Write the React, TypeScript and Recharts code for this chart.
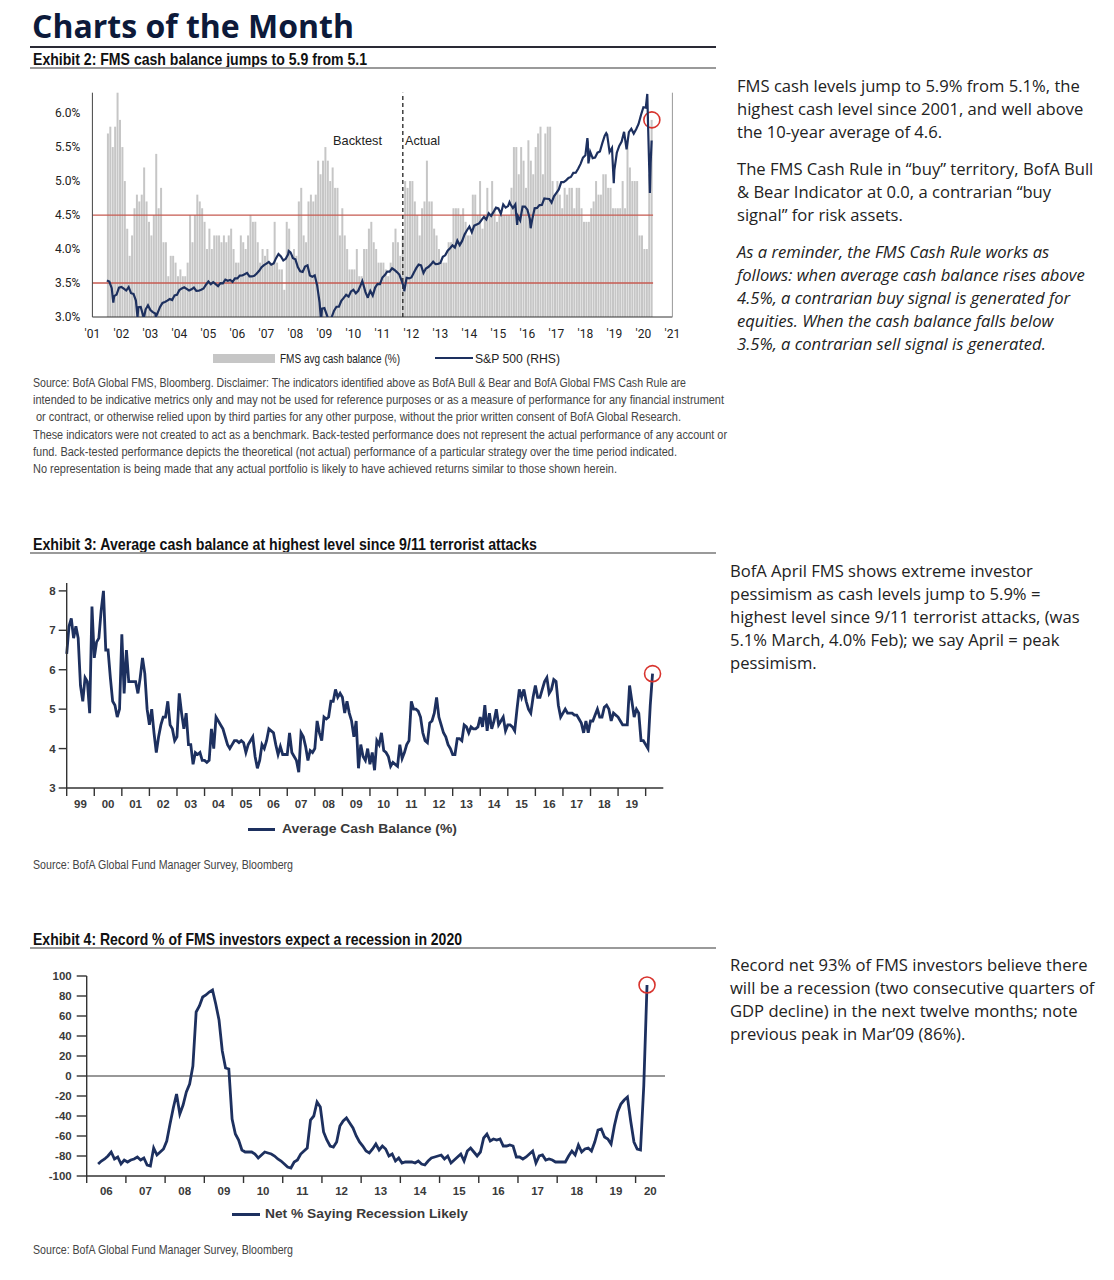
import React from "react";
import {
  BarChart,
  Bar,
  LineChart,
  Line,
  XAxis,
  YAxis,
  ReferenceLine,
  ReferenceDot,
} from "recharts";

const TICKFONT = "Roboto, 'Liberation Sans', sans-serif";
const ARIAL = "'Liberation Sans', Arial, sans-serif";
const BODY = "'Open Sans', 'Noto Sans', sans-serif";
const NAVY = "#1d305f";
const RED = "#d8342e";
const RULE_RED = "#c65a50";
const BAR_GREY = "#c6c6c6";
const AXIS = "#333";

// ---------- Exhibit 2 ----------
// FMS avg cash balance (%), monthly, Jul 2001 - Apr 2020
const CASH_BARS_START = [2001, 6];
const CASH_BARS = [
  5.7, 5.8, 5.5, 5.8, 6.3, 5.9,
  5.5, 5.0, 4.3, 3.9, 4.2, 4.6, 4.8, 4.7, 4.8, 5.2, 4.7, 4.4,
  4.2, 4.5, 5.4, 4.6, 4.9, 4.1, 4.1, 3.6, 3.9, 3.9, 3.8, 3.6,
  3.7, 3.6, 3.6, 3.8, 4.5, 4.1, 4.5, 4.8, 4.7, 4.6, 4.4, 4.0,
  4.3, 4.0, 4.2, 4.2, 4.2, 4.1, 4.2, 4.1, 4.2, 4.3, 4.0, 3.8,
  3.8, 4.2, 4.1, 4.0, 4.2, 4.5, 4.4, 4.4, 4.1, 3.8, 4.0, 3.9,
  4.0, 3.8, 3.8, 4.4, 3.8, 3.7, 3.7, 3.4, 4.4, 4.3, 3.9, 4.0,
  3.9, 4.7, 4.9, 4.2, 4.1, 4.7, 4.8, 4.7, 4.8, 5.3, 5.1, 5.3,
  5.5, 5.3, 5.0, 5.2, 4.9, 4.9, 4.2, 4.6, 4.2, 4.0, 3.7, 3.7,
  3.7, 4.0, 3.6, 3.6, 4.0, 4.0, 4.3, 4.4, 4.1, 4.0, 3.8, 3.8,
  3.8, 3.7, 3.6, 3.8, 4.1, 4.3, 4.1, 3.9, 4.2, 5.0, 4.9, 5.0,
  5.0, 4.7, 4.5, 4.2, 4.6, 4.7, 5.3, 4.7, 4.7, 4.3, 4.2, 4.0,
  3.8, 3.8, 3.8, 4.1, 4.1, 4.6, 4.6, 4.6, 4.5, 4.6, 4.4, 4.2,
  4.2, 4.8, 4.8, 4.5, 5.0, 4.3, 4.5, 4.9, 4.5, 5.0, 4.6, 4.4,
  4.5, 4.5, 4.5, 4.5, 4.5, 4.9, 5.5, 5.5, 5.1, 5.5, 5.3, 4.9,
  5.6, 5.3, 5.1, 5.5, 5.7, 5.8, 5.1, 5.7, 5.8, 5.8, 5.0, 4.8,
  5.0, 4.8, 4.6, 4.9, 4.8, 4.9, 4.9, 4.6, 4.9, 4.9, 4.6, 4.4,
  4.4, 4.4, 4.6, 4.7, 5.0, 4.8, 4.8, 5.1, 5.1, 4.9, 4.9, 4.6,
  4.6, 4.6, 4.6, 5.0, 4.6, 5.6, 5.2, 5.0, 5.0, 5.0, 4.2, 4.2,
  4.0, 4.0, 5.1, 5.9,
];

// S&P 500 month-end closes, Jun 2001 - Mar 2020
const SPX_START = [2001, 5];
const SPX_MONTHLY = [
  1224, 1211, 1134, 1041, 1060, 1139, 1148,
  1130, 1107, 1147, 1076, 1067, 990, 912, 916, 815, 886, 936, 880,
  856, 841, 848, 917, 964, 975, 990, 1008, 996, 1051, 1058, 1112,
  1131, 1145, 1126, 1107, 1121, 1141, 1102, 1104, 1115, 1130, 1174, 1212,
  1181, 1204, 1181, 1157, 1192, 1191, 1234, 1220, 1229, 1207, 1249, 1248,
  1280, 1281, 1295, 1311, 1270, 1270, 1277, 1304, 1336, 1378, 1401, 1418,
  1438, 1407, 1421, 1482, 1531, 1503, 1455, 1474, 1527, 1549, 1481, 1468,
  1379, 1331, 1323, 1386, 1400, 1280, 1267, 1283, 1166, 969, 896, 903,
  826, 735, 798, 873, 919, 919, 987, 1021, 1057, 1036, 1096, 1115,
  1074, 1104, 1169, 1187, 1089, 1031, 1102, 1049, 1141, 1183, 1181, 1258,
  1286, 1327, 1326, 1364, 1345, 1321, 1292, 1219, 1131, 1253, 1247, 1258,
  1312, 1366, 1408, 1398, 1310, 1362, 1379, 1407, 1441, 1412, 1416, 1426,
  1498, 1515, 1569, 1598, 1631, 1606, 1686, 1633, 1682, 1757, 1806, 1848,
  1783, 1859, 1872, 1884, 1924, 1960, 1931, 2003, 1972, 2018, 2068, 2059,
  1995, 2105, 2068, 2086, 2107, 2063, 2104, 1972, 1920, 2079, 2080, 2044,
  1940, 1932, 2060, 2065, 2097, 2099, 2174, 2171, 2168, 2126, 2199, 2239,
  2279, 2364, 2363, 2384, 2412, 2423, 2470, 2472, 2519, 2575, 2648, 2674,
  2824, 2714, 2641, 2648, 2705, 2718, 2816, 2902, 2914, 2712, 2760, 2507,
  2704, 2784, 2834, 2946, 2752, 2942, 2980, 2926, 2977, 3038, 3141, 3231,
  3226, 2954, 2585,
];

// intra-month turning points of the S&P 500
const SPX_TURNS: [string, number][] = [
  ["2001-09-21", 966],
  ["2002-07-23", 797],
  ["2002-10-09", 777],
  ["2003-03-11", 800],
  ["2007-10-09", 1565],
  ["2008-11-20", 752],
  ["2009-03-09", 677],
  ["2010-04-23", 1217],
  ["2010-07-02", 1022],
  ["2011-10-03", 1099],
  ["2015-05-21", 2131],
  ["2015-08-25", 1868],
  ["2016-02-11", 1829],
  ["2018-01-26", 2873],
  ["2018-02-08", 2581],
  ["2018-09-20", 2931],
  ["2018-12-24", 2351],
  ["2019-06-03", 2744],
  ["2020-02-19", 3386],
  ["2020-03-23", 2237],
  ["2020-04-14", 2846],
];

const EX2_YEARS = [2001, 2002, 2003, 2004, 2005, 2006, 2007, 2008, 2009, 2010, 2011,
  2012, 2013, 2014, 2015, 2016, 2017, 2018, 2019, 2020, 2021];
const EX2_LEFT_TICKS = [3.0, 3.5, 4.0, 4.5, 5.0, 5.5, 6.0];
const EX2_RIGHT_TICKS = [800, 1000, 1200, 1400, 1600, 1800, 2000, 2200, 2400, 2600,
  2800, 3000, 3200, 3400];
const CASH_RULES = [4.5, 3.5];
const BACKTEST_END = "2011-09-15";
const LATEST_CASH = 5.9;

// ---------- Exhibit 3 ----------
// Average cash balance (%), monthly, Jan 1999 - Apr 2020
const CASH_LINE_START = [1999, 0];
const CASH_LINE = [
  6.4, 7.1, 7.3, 6.8, 7.1, 6.8, 5.6, 5.2, 5.8, 5.7, 4.9, 7.6,
  6.3, 6.7, 6.8, 7.5, 8.0, 6.5, 6.5, 5.8, 5.2, 5.1, 4.8, 5.0,
  6.9, 5.4, 6.5, 5.7, 5.7, 5.7, 5.7, 5.4, 5.8, 6.3, 5.9, 5.0,
  4.6, 5.0, 4.4, 3.9, 4.3, 4.6, 4.8, 4.8, 5.2, 4.6, 4.5, 4.2,
  4.3, 5.4, 4.9, 4.5, 4.9, 4.1, 4.1, 3.6, 3.9, 3.85, 3.9, 3.7,
  3.7, 3.65, 3.7, 4.5, 4.0, 4.8, 4.7, 4.6, 4.5, 4.3, 4.1, 4.0,
  4.1, 4.2, 4.2, 4.15, 4.2, 4.15, 3.9, 4.1, 4.2, 4.3, 3.8, 3.5,
  3.7, 4.1, 4.0, 4.2, 4.5, 4.45, 4.4, 4.1, 3.85, 4.05, 3.85, 3.85,
  3.85, 4.4, 3.9, 3.8, 3.7, 3.4, 4.4, 4.3, 4.05, 3.7, 3.95, 3.9,
  4.0, 4.7, 4.4, 4.2, 4.8, 4.75, 4.8, 5.2, 5.2, 5.5, 5.3, 5.4,
  5.3, 4.9, 5.2, 4.9, 4.7, 4.3, 4.7, 3.5, 4.1, 3.8, 3.7, 4.0,
  3.6, 3.9, 3.45, 4.2, 4.1, 4.4, 3.95, 3.9, 3.8, 3.55, 3.65, 3.6,
  3.55, 4.1, 3.75, 3.9, 4.1, 4.2, 5.2, 5.0, 5.0, 4.95, 4.8, 4.4,
  4.2, 4.15, 4.65, 4.7, 4.9, 5.3, 4.8, 4.6, 4.4, 4.3, 4.1, 4.0,
  3.85, 3.85, 4.25, 4.25, 4.2, 4.6, 4.55, 4.4, 4.55, 4.5, 4.5, 4.55,
  4.8, 4.55, 5.1, 4.45, 4.9, 4.5, 4.7, 5.0, 4.6, 4.7, 4.8, 4.45,
  4.6, 4.6, 4.55, 4.45, 5.0, 5.5, 5.3, 5.5, 5.2, 5.0, 4.9, 5.3,
  5.6, 5.3, 5.3, 5.5, 5.7, 5.8, 5.4, 5.5, 5.75, 5.7, 5.1, 4.8,
  4.9, 5.0, 4.9, 4.9, 4.9, 4.85, 4.85, 4.75, 4.65, 4.4, 4.7, 4.4,
  4.7, 4.7, 4.85, 5.0, 4.8, 4.8, 5.05, 5.1, 5.0, 4.7, 4.9, 4.85,
  4.8, 4.7, 4.6, 4.6, 4.6, 5.6, 5.2, 4.8, 5.0, 4.9, 4.2, 4.2,
  4.1, 4.0, 5.1, 5.9,
];
const EX3_YEARS = [1999, 2000, 2001, 2002, 2003, 2004, 2005, 2006, 2007, 2008, 2009,
  2010, 2011, 2012, 2013, 2014, 2015, 2016, 2017, 2018, 2019, 2020];
const EX3_LABELS = ["99", "00", "01", "02", "03", "04", "05", "06", "07", "08", "09",
  "10", "11", "12", "13", "14", "15", "16", "17", "18", "19"];
const EX3_Y_TICKS = [3, 4, 5, 6, 7, 8];
const EX3_X_END = 2020.64;

// ---------- Exhibit 4 ----------
// Net % saying recession likely, monthly, Apr 2006 - Apr 2020
const RECESSION_START = [2006, 3];
const RECESSION = [
  -88, -85, -83, -80, -76, -83, -81, -88, -84,
  -86, -84, -83, -81, -84, -82, -89, -90, -72, -79, -76, -73,
  -65, -48, -32, -18, -38, -29, -16, -8, 10, 64, 70, 79,
  81, 84, 86, 72, 56, 25, 8, 7, -43, -58, -64, -74,
  -76, -76, -76, -78, -82, -79, -76, -77, -78, -80, -83, -85,
  -88, -91, -92, -86, -84, -78, -75, -72, -44, -40, -26, -31,
  -56, -64, -70, -71, -66, -50, -45, -42, -47, -52, -60, -66,
  -70, -75, -77, -73, -68, -74, -70, -73, -80, -78, -85, -82,
  -87, -86, -86, -86, -87, -85, -88, -89, -85, -82, -81, -80,
  -79, -83, -80, -87, -84, -81, -78, -85, -75, -72, -76, -80,
  -76, -62, -58, -65, -63, -64, -63, -70, -70, -69, -70, -81,
  -81, -83, -81, -78, -75, -87, -80, -79, -84, -83, -84, -86,
  -86, -86, -86, -80, -75, -79, -69, -76, -73, -72, -75, -66,
  -54, -53, -61, -63, -68, -50, -36, -28, -24, -21, -45, -66,
  -73, -74, -10, 91,
];
const EX4_YEARS = [2006, 2007, 2008, 2009, 2010, 2011, 2012, 2013, 2014, 2015, 2016,
  2017, 2018, 2019, 2020];
const EX4_LABELS = ["06", "07", "08", "09", "10", "11", "12", "13", "14", "15", "16",
  "17", "18", "19", "20"];
const EX4_Y_TICKS = [-100, -80, -60, -40, -20, 0, 20, 40, 60, 80, 100];
const EX4_X_END = 2020.75;

// ---------- data builders ----------
const monthly = (start: number[], values: number[], offset: number) =>
  values.map((v, i) => ({ t: start[0] + (start[1] + i + offset) / 12, v }));

const dateToYear = (s: string) => {
  const [y, m, d] = s.split("-").map(Number);
  const a = Date.UTC(y, 0, 1);
  const b = Date.UTC(y + 1, 0, 1);
  return y + (Date.UTC(y, m - 1, d) - a) / (b - a);
};

const barData = monthly(CASH_BARS_START, CASH_BARS, 0.5);
const spxData = [
  ...monthly(SPX_START, SPX_MONTHLY, 1),
  ...SPX_TURNS.map(([d, v]) => ({ t: dateToYear(d), v })),
].sort((a, b) => a.t - b.t);
const cashLineData = monthly(CASH_LINE_START, CASH_LINE, 0);
const recessionData = monthly(RECESSION_START, RECESSION, 0.5);

const lastBar = barData[barData.length - 1];
const ruleEnd = lastBar.t + 1 / 24;

const bandTicks = (years: number[], labels: string[], end: number) =>
  years.flatMap((y, i) => (labels[i] ? [y, (y + Math.min(y + 1, end)) / 2] : [y]));

const makeBandTick = (labels: string[], first: number, len: number, gap: number) => (props: any) => {
  const { x, y, payload } = props;
  const v = payload.value;
  if (Number.isInteger(v)) {
    return <line x1={x} x2={x} y1={y - gap - len} y2={y - gap} stroke={AXIS} strokeWidth={1.4} />;
  }
  return (
    <text x={x} y={y} dy="0.71em" textAnchor="middle" fontSize={11.5} fontWeight={700}
      fill="#3a3a3a" fontFamily={ARIAL}>
      {labels[Math.floor(v) - first]}
    </text>
  );
};

const RightTick = (props: any) => {
  const { x, y, payload } = props;
  const ax = x - 14;
  return (
    <g>
      <line x1={ax - 4} x2={ax} y1={y} y2={y} stroke="#999" />
      <text x={x} y={y} dy="0.35em" textAnchor="start" fontSize={12} fill="#222" fontFamily={TICKFONT}>
        {payload.value}
      </text>
    </g>
  );
};

// ---------- layout helpers ----------
const Abs = ({ x, y, style, children }: any) => (
  <div style={{ position: "absolute", left: x, top: y, whiteSpace: "pre", ...style }}>{children}</div>
);

// text squeezed to the condensed width of the original typeface
const FitText = ({ x, cy, w, size, weight = 400, color = "#333", children }: any) => (
  <svg style={{ position: "absolute", left: x, top: cy - size, overflow: "visible" }} width={w} height={size * 2}>
    <text x={0} y={size} dominantBaseline="central" textLength={w} lengthAdjust="spacingAndGlyphs"
      fontSize={size} fontWeight={weight} fill={color} fontFamily={ARIAL}>
      {children}
    </text>
  </svg>
);

const Rule = ({ y, color, h }: any) => (
  <div style={{ position: "absolute", left: 30, top: y, width: 686, height: h, background: color }} />
);

const para = (lines: string[], style: any = {}) => (
  <div style={{ marginBottom: 14, ...style }}>
    {lines.map((l) => (
      <div key={l}>{l}</div>
    ))}
  </div>
);

const noteStyle = { fontFamily: BODY, fontSize: 16.6, color: "#222", lineHeight: "23px" };

const SOURCE_LINES: [string, number, number][] = [
  ["Source: BofA Global FMS, Bloomberg. Disclaimer: The indicators identified above as BofA Bull & Bear and BofA Global FMS Cash Rule are", 33, 653],
  ["intended to be indicative metrics only and may not be used for reference purposes or as a measure of performance for any financial instrument", 33, 691],
  ["or contract, or otherwise relied upon by third parties for any other purpose, without the prior written consent of BofA Global Research.", 36, 645],
  ["These indicators were not created to act as a benchmark. Back-tested performance does not represent the actual performance of any account or", 33, 694],
  ["fund. Back-tested performance depicts the theoretical (not actual) performance of a particular strategy over the time period indicated.", 33, 644],
  ["No representation is being made that any actual portfolio is likely to have achieved returns similar to those shown herein.", 33, 584],
];

export default function App() {
  return (
    <div style={{ position: "absolute", left: 0, top: 0, width: 1114, height: 1280, background: "#fff", overflow: "hidden" }}>
      {/* header */}
      <Abs x={32} y={6} style={{ fontFamily: "'Open Sans', sans-serif", fontWeight: 700, fontSize: 32, color: "#0d1a3a", lineHeight: "40px" }}>
        Charts of the Month
      </Abs>
      <Rule y={46} color="#2a2a35" h={2} />

      {/* ===== Exhibit 2 ===== */}
      <FitText x={33} cy={58.5} w={334} size={16.5} weight={700} color="#111">Exhibit 2: FMS cash balance jumps to 5.9 from 5.1</FitText>
      <Rule y={67} color="#9a9a9a" h={2} />

      <div style={{ position: "absolute", left: 0, top: 80, width: 720, height: 260 }}>
        <BarChart width={720} height={260} data={barData}
          margin={{ top: 12.7, right: 2.6, bottom: 3, left: 42.4 }}>
          <XAxis type="number" dataKey="t" domain={[2001, 2021]} ticks={EX2_YEARS} interval={0}
            tickFormatter={(y: number) => "'" + String(y).slice(2)} tickLine={false} tickSize={6} tickMargin={6}
            height={20} axisLine={{ stroke: AXIS }}
            tick={{ fontSize: 12, fill: "#222", fontFamily: TICKFONT }} />
          <YAxis yAxisId="l" domain={[3, 6.28]} ticks={EX2_LEFT_TICKS} interval={0} width={50}
            tickFormatter={(v: number) => v.toFixed(1) + "%"} tickLine={false} tickSize={6} tickMargin={6}
            axisLine={{ stroke: "#444" }} tick={{ fontSize: 12, fill: "#222", fontFamily: TICKFONT }} />
          <YAxis yAxisId="r" orientation="right" domain={[800, 3400]} ticks={EX2_RIGHT_TICKS} interval={0}
            width={45} tickLine={false} tickSize={8} tickMargin={6} axisLine={{ stroke: "#999" }} tick={<RightTick />} />
          <Bar yAxisId="l" dataKey="v" fill={BAR_GREY} barSize={2} isAnimationActive={false} />
          {CASH_RULES.map((r) => (
            <ReferenceLine key={r} yAxisId="l" segment={[{ x: 2001, y: r }, { x: ruleEnd, y: r }]}
              stroke={RULE_RED} strokeWidth={1.3} />
          ))}
          <ReferenceLine yAxisId="l" x={dateToYear(BACKTEST_END)} stroke="#222" strokeWidth={1.3} strokeDasharray="4 3" />
          <ReferenceDot yAxisId="l" x={lastBar.t} y={LATEST_CASH} r={8} fill="none" stroke={RED} strokeWidth={1.6} />
        </BarChart>
      </div>
      <div style={{ position: "absolute", left: 0, top: 80, width: 720, height: 260 }}>
        <LineChart width={720} height={260} data={spxData}
          margin={{ top: 12.7, right: 47.6, bottom: 23, left: 92.4 }}>
          <XAxis type="number" dataKey="t" domain={[2001, 2021]} hide />
          <YAxis yAxisId="r" domain={[800, 3400]} allowDataOverflow hide />
          <Line yAxisId="r" dataKey="v" stroke={NAVY} strokeWidth={2.2} dot={false} isAnimationActive={false} />
        </LineChart>
      </div>
      <FitText x={333} cy={140} w={49} size={13} color="#222">Backtest</FitText>
      <FitText x={405} cy={140} w={35} size={13} color="#222">Actual</FitText>

      {/* legend */}
      <div style={{ position: "absolute", left: 213, top: 354, width: 62, height: 9, background: BAR_GREY }} />
      <FitText x={280} cy={358} w={120} size={13.5} color="#222">FMS avg cash balance (%)</FitText>
      <div style={{ position: "absolute", left: 435, top: 357, width: 38, height: 2, background: NAVY }} />
      <FitText x={475} cy={358} w={85} size={13.5} color="#222">S&amp;P 500 (RHS)</FitText>

      {SOURCE_LINES.map(([l, x, w], i) => (
        <FitText key={l} x={x} cy={383 + i * 17.2} w={w} size={12} color="#444">{l}</FitText>
      ))}

      <Abs x={737} y={73.5} style={noteStyle}>
        {para([
          "FMS cash levels jump to 5.9% from 5.1%, the",
          "highest cash level since 2001, and well above",
          "the 10-year average of 4.6.",
        ])}
        {para([
          "The FMS Cash Rule in \u201cbuy\u201d territory, BofA Bull",
          "& Bear Indicator at 0.0, a contrarian \u201cbuy",
          "signal\u201d for risk assets.",
        ])}
        {para([
          "As a reminder, the FMS Cash Rule works as",
          "follows: when average cash balance rises above",
          "4.5%, a contrarian buy signal is generated for",
          "equities. When the cash balance falls below",
          "3.5%, a contrarian sell signal is generated.",
        ], { fontStyle: "italic" })}
      </Abs>

      {/* ===== Exhibit 3 ===== */}
      <FitText x={33} cy={543.5} w={504} size={16.5} weight={700} color="#111">Exhibit 3: Average cash balance at highest level since 9/11 terrorist attacks</FitText>
      <Rule y={552} color="#9a9a9a" h={1.5} />

      <div style={{ position: "absolute", left: 0, top: 570, width: 720, height: 245 }}>
        <LineChart width={720} height={245} data={cashLineData}
          margin={{ top: 13, right: 56.7, bottom: 5, left: 26.7 }}>
          <XAxis type="number" dataKey="t" domain={[EX3_YEARS[0], EX3_X_END]}
            ticks={bandTicks(EX3_YEARS, EX3_LABELS, EX3_X_END)} interval={0} height={22}
            tickLine={false} tickSize={8} tickMargin={4} axisLine={{ stroke: AXIS, strokeWidth: 1.4 }}
            tick={makeBandTick(EX3_LABELS, EX3_YEARS[0], 8, 4)} />
          <YAxis domain={[3, 8.2]} ticks={EX3_Y_TICKS} interval={0} width={40} tickSize={8} tickMargin={3}
            axisLine={{ stroke: AXIS, strokeWidth: 1.4 }} tickLine={{ stroke: AXIS, strokeWidth: 1.4 }}
            tick={{ fontSize: 11.5, fontWeight: 700, fill: "#3a3a3a", fontFamily: ARIAL }} />
          <Line dataKey="v" stroke={NAVY} strokeWidth={2.8} dot={false} isAnimationActive={false} />
          <ReferenceDot x={cashLineData[cashLineData.length - 1].t} y={LATEST_CASH} r={8}
            fill="none" stroke={RED} strokeWidth={1.6} />
        </LineChart>
      </div>
      <div style={{ position: "absolute", left: 248, top: 828, width: 27, height: 2.5, background: NAVY }} />
      <FitText x={282} cy={829} w={175} size={12} weight={700} color="#3a3a3a">Average Cash Balance (%)</FitText>
      <FitText x={33} cy={865} w={260} size={12} color="#444">Source: BofA Global Fund Manager Survey, Bloomberg</FitText>

      <Abs x={730} y={558.5} style={noteStyle}>
        {para([
          "BofA April FMS shows extreme investor",
          "pessimism as cash levels jump to 5.9% =",
          "highest level since 9/11 terrorist attacks, (was",
          "5.1% March, 4.0% Feb); we say April = peak",
          "pessimism.",
        ])}
      </Abs>

      {/* ===== Exhibit 4 ===== */}
      <FitText x={33} cy={938.5} w={429} size={16.5} weight={700} color="#111">Exhibit 4: Record % of FMS investors expect a recession in 2020</FitText>
      <Rule y={947} color="#9a9a9a" h={1.5} />

      <div style={{ position: "absolute", left: 0, top: 960, width: 720, height: 245 }}>
        <LineChart width={720} height={245} data={recessionData}
          margin={{ top: 16, right: 55, bottom: 5, left: 41.7 }}>
          <XAxis type="number" dataKey="t" domain={[EX4_YEARS[0], EX4_X_END]}
            ticks={bandTicks(EX4_YEARS, EX4_LABELS, EX4_X_END)} interval={0} height={24}
            tickLine={false} tickSize={7} tickMargin={4} axisLine={{ stroke: AXIS, strokeWidth: 1.4 }}
            tick={makeBandTick(EX4_LABELS, EX4_YEARS[0], 7, 4)} />
          <YAxis domain={[-100, 100]} ticks={EX4_Y_TICKS} interval={0} width={45} tickSize={10} tickMargin={5}
            axisLine={{ stroke: AXIS, strokeWidth: 1.4 }} tickLine={{ stroke: AXIS, strokeWidth: 1.4 }}
            tick={{ fontSize: 11.5, fontWeight: 700, fill: "#3a3a3a", fontFamily: ARIAL }} />
          <ReferenceLine y={0} stroke="#333" strokeWidth={1.2} />
          <Line dataKey="v" stroke={NAVY} strokeWidth={2.8} dot={false} isAnimationActive={false} />
          <ReferenceDot x={recessionData[recessionData.length - 1].t}
            y={RECESSION[RECESSION.length - 1]} r={8} fill="none" stroke={RED} strokeWidth={1.6} />
        </LineChart>
      </div>
      <div style={{ position: "absolute", left: 232, top: 1213, width: 28, height: 2.5, background: NAVY }} />
      <FitText x={265} cy={1214} w={203} size={12} weight={700} color="#3a3a3a">Net % Saying Recession Likely</FitText>
      <FitText x={33} cy={1250} w={260} size={12} color="#444">Source: BofA Global Fund Manager Survey, Bloomberg</FitText>

      <Abs x={730} y={952.5} style={noteStyle}>
        {para([
          "Record net 93% of FMS investors believe there",
          "will be a recession (two consecutive quarters of",
          "GDP decline) in the next twelve months; note",
          "previous peak in Mar\u201909 (86%).",
        ])}
      </Abs>
    </div>
  );
}
